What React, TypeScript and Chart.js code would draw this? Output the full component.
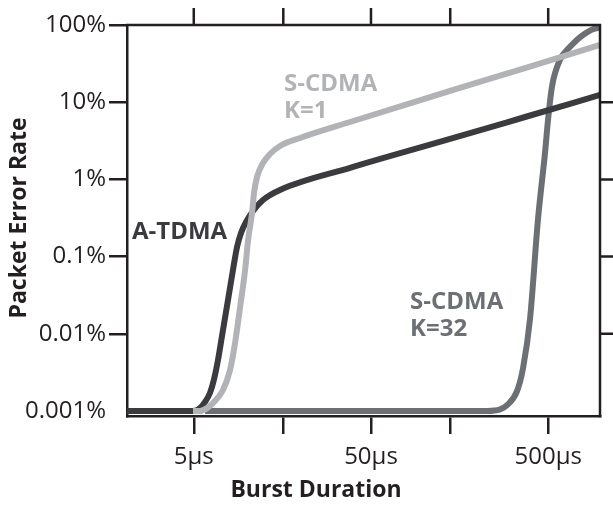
import React, { useEffect, useRef } from "react";
import { Chart, registerables } from "chart.js";

Chart.register(...registerables);

// Burst duration (µs) and packet error rate (%) for each curve
const aTdmaX = [2.1, 4.46, 4.95, 5.42, 5.79, 6.17, 6.49, 6.85, 7.31, 7.8, 8.32, 8.77, 9.24, 9.86, 10.8, 12.29, 15.33, 38.1, 139.7, 370, 980];
const aTdmaY = [0.001, 0.001, 0.001, 0.00109, 0.00131, 0.00171, 0.00252, 0.00458, 0.0112, 0.0274, 0.067, 0.133, 0.202, 0.281, 0.39, 0.541, 0.729, 1.41, 3.34, 6.43, 12.4];

const sCdma1X = [4.95, 5.42, 5.94, 6.42, 7.31, 8.01, 8.55, 9.13, 9.74, 10.13, 10.66, 10.94, 11.37, 12.29, 13.46, 15.33, 19.9, 38.1, 139.7, 370, 980];
const sCdma1Y = [0.001, 0.001, 0.00109, 0.00127, 0.00187, 0.0034, 0.0076, 0.0222, 0.067, 0.164, 0.367, 0.667, 1.07, 1.63, 2.13, 2.71, 3.44, 5.54, 13.97, 27.7, 55.1];

const sCdma32X = [5.79, 226, 267.5, 293, 333.5, 360.5, 395, 438, 480, 499, 525, 583, 664, 786, 955, 980];
const sCdma32Y = [0.001, 0.001, 0.00105, 0.00119, 0.00181, 0.00358, 0.0158, 0.307, 2.24, 5.97, 15.9, 35.4, 52.1, 74.3, 91.5, 91.5];

const xTickValues = [5, 16, 50, 140, 500];
const xTickLabels = ["5μs", "", "50μs", "", "500μs"];
const yTickValues = [100, 10, 1, 0.1, 0.01, 0.001];
const yTickLabels = ["100%", "10%", "1%", "0.1%", "0.01%", "0.001%"];

const FONT = "'Open Sans', 'Noto Sans', sans-serif";
const AXIS = "#231f20";
const C_DARK = "#3b3a3f";
const C_LIGHT = "#b2b3b6";
const C_MID = "#6c6f73";

const pts = (xs: number[], ys: number[]) => xs.map((x, i) => ({ x, y: ys[i] }));

const framePlugin = {
  id: "frame",
  afterDraw(chart: any) {
    const { ctx, chartArea, scales } = chart;
    const { left, right, top, bottom } = chartArea;
    ctx.save();
    ctx.strokeStyle = AXIS;
    ctx.lineWidth = 2.5;
    ctx.lineCap = "butt";
    ctx.beginPath();
    ctx.moveTo(left - 1.25, top);
    ctx.lineTo(right, top);
    ctx.moveTo(right, top - 1.25);
    ctx.lineTo(right, bottom + 1.25);
    // top ticks
    xTickValues.forEach((v) => {
      const px = scales.x.getPixelForValue(v);
      ctx.moveTo(px, top);
      ctx.lineTo(px, top - 17);
    });
    // right ticks
    yTickValues.forEach((v) => {
      if (v === 100 || v === 0.001) return;
      const py = scales.y.getPixelForValue(v);
      ctx.moveTo(right, py);
      ctx.lineTo(right + 18, py);
    });
    ctx.stroke();

    // axis titles
    ctx.fillStyle = AXIS;
    ctx.font = `bold 23px ${FONT}`;
    ctx.textAlign = "center";
    ctx.textBaseline = "middle";
    ctx.fillText("Burst Duration", 316, 490);
    ctx.save();
    ctx.translate(19, 218);
    ctx.rotate(-Math.PI / 2);
    ctx.fillText("Packet Error Rate", 0, 0);
    ctx.restore();

    // curve labels
    ctx.font = `bold 24px ${FONT}`;
    ctx.textAlign = "left";
    ctx.fillStyle = C_DARK;
    ctx.fillText("A-TDMA", 132, 232);
    ctx.fillStyle = C_LIGHT;
    ctx.fillText("S-CDMA", 284, 84);
    ctx.fillText("K=1", 284, 111);
    ctx.fillStyle = C_MID;
    ctx.fillText("S-CDMA", 410, 302);
    ctx.fillText("K=32", 410, 329);
    ctx.restore();
  },
};

export default function App() {
  const ref = useRef<HTMLCanvasElement | null>(null);

  useEffect(() => {
    document.body.style.margin = "0";
    const canvas = ref.current;
    if (!canvas) return;
    const ds = (label: string, xs: number[], ys: number[], color: string) => ({
      label,
      data: pts(xs, ys),
      borderColor: color,
      backgroundColor: color,
      borderWidth: 6,
      pointRadius: 0,
      cubicInterpolationMode: "monotone" as const,
      fill: false,
    });
    const chart = new Chart(canvas, {
      type: "line",
      data: {
        datasets: [
          ds("S-CDMA K=1", sCdma1X, sCdma1Y, C_LIGHT),
          ds("A-TDMA", aTdmaX, aTdmaY, C_DARK),
          ds("S-CDMA K=32", sCdma32X, sCdma32Y, C_MID),
        ],
      },
      plugins: [framePlugin],
      options: {
        responsive: false,
        animation: false,
        events: [],
        layout: { padding: { top: 25, right: 13, left: 0, bottom: 0 } },
        plugins: {
          legend: { display: false },
          tooltip: { enabled: false },
          title: { display: false },
        },
        scales: {
          x: {
            type: "logarithmic",
            min: 2.1,
            max: 980,
            afterFit: (s: any) => {
              s.height = 90;
            },
            afterBuildTicks: (s: any) => {
              s.ticks = xTickValues.map((v) => ({ value: v }));
            },
            ticks: {
              autoSkip: false,
              maxRotation: 0,
              padding: 9,
              color: AXIS,
              font: { family: FONT, size: 24 },
              callback: (v: any) => {
                const i = xTickValues.indexOf(Number(v));
                return i >= 0 ? xTickLabels[i] : "";
              },
            },
            grid: {
              display: true,
              drawOnChartArea: false,
              drawTicks: true,
              tickLength: 18,
              color: AXIS,
              lineWidth: 2.5,
            },
            border: { display: true, color: AXIS, width: 2.5 },
          },
          y: {
            type: "logarithmic",
            min: 0.000861,
            max: 100,
            afterFit: (s: any) => {
              s.width = 127;
            },
            afterBuildTicks: (s: any) => {
              s.ticks = yTickValues.map((v) => ({ value: v }));
            },
            ticks: {
              autoSkip: false,
              padding: 3,
              color: AXIS,
              font: { family: FONT, size: 24 },
              callback: (v: any) => {
                const i = yTickValues.indexOf(Number(v));
                return i >= 0 ? yTickLabels[i] : "";
              },
            },
            grid: {
              display: true,
              drawOnChartArea: false,
              drawTicks: true,
              tickLength: 18,
              color: (c: any) => (c.tick && c.tick.value === 0.001 ? "rgba(0,0,0,0)" : AXIS),
              lineWidth: 2.5,
            },
            border: { display: true, color: AXIS, width: 2.5 },
          },
        },
      },
    });
    return () => chart.destroy();
  }, []);

  return (
    <div style={{ width: 613, height: 506, background: "#fff" }}>
      <canvas ref={ref} width={613} height={506} style={{ display: "block" }} />
    </div>
  );
}
